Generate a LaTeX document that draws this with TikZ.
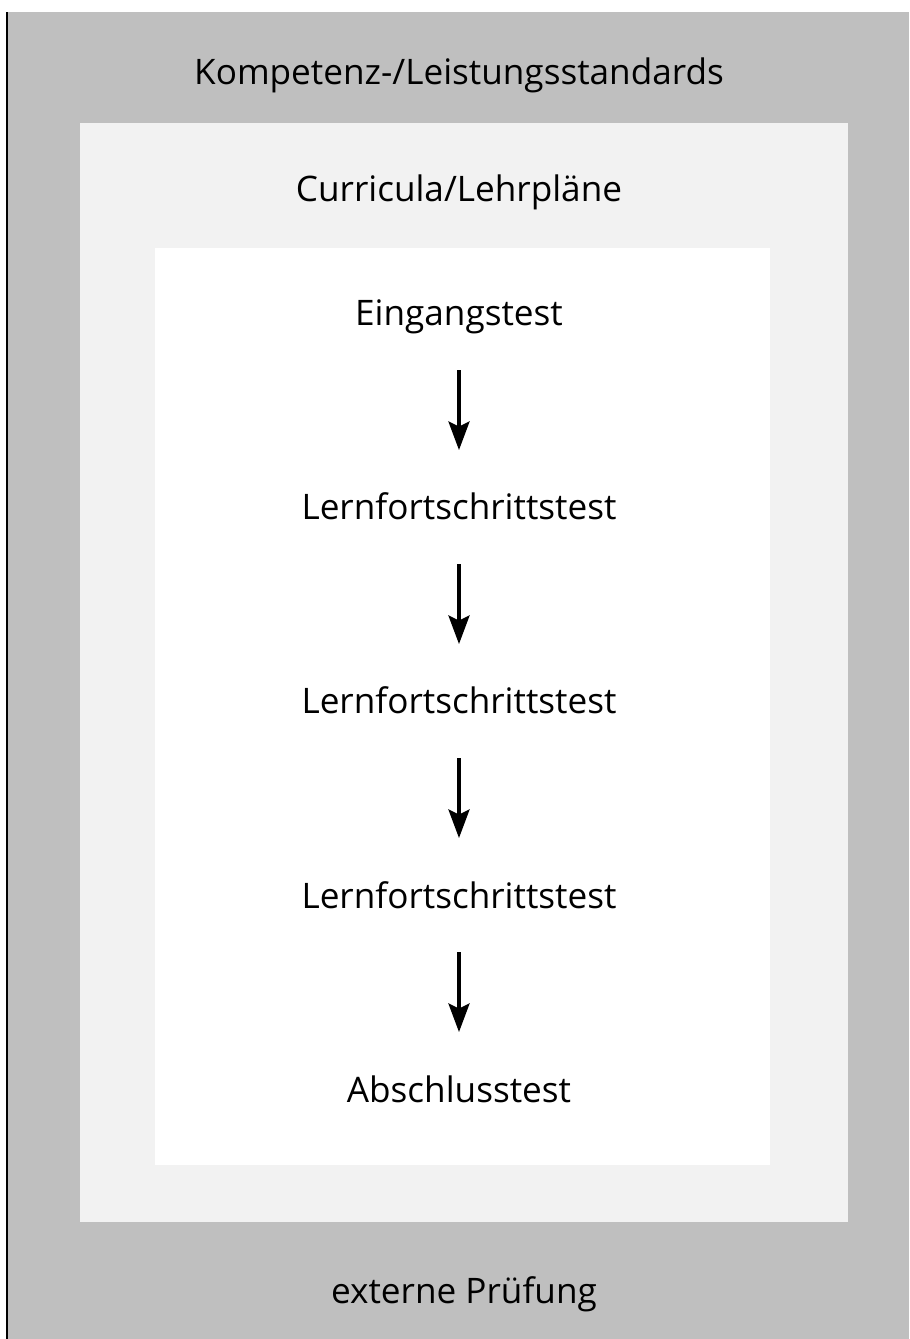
\documentclass[tikz,border=0pt]{standalone}
\usepackage{fontspec}
\setmainfont{Open Sans}
\usetikzlibrary{arrows.meta,positioning}
\tikzstyle{stage} = [font=\fontsize{20}{24}\selectfont, text height=14pt,
    text depth=4pt, inner sep=0pt]
\tikzstyle{line} = [draw, line width=1.8pt,
    -{Stealth[length=5.7mm,width=4.2mm,inset=1mm]},
    shorten <=7.4mm, shorten >=9mm]

\begin{document}
\begin{tikzpicture}[node distance = 3.88cm, auto]
    \useasboundingbox (0,0) rectangle (18.18,-26.78);

    % Frames: standards / curricula / tests
    \fill [black!25] (0.14,-0.24) rectangle (18.18,-26.78);
    \draw [line width=0.8pt] (0.14,-0.24) -- (0.14,-26.78);
    \fill [black!5] (1.6,-2.46) rectangle (16.96,-24.44);
    \fill [white] (3.1,-4.96) rectangle (15.4,-23.3);

    % Place nodes
    \node [stage] (standards) at (9.18,-1.524) {Kompetenz-/Leistungsstandards};
    \node [stage, below of=standards, node distance=2.34cm] (curricula) {Curricula/Lehrpläne};
    \node [stage, below of=curricula, node distance=2.48cm] (eingang) {Eingangstest};
    \node [stage, below of=eingang] (lernA) {Lernfortschrittstest};
    \node [stage, below of=lernA] (lernB) {Lernfortschrittstest};
    \node [stage, below of=lernB] (lernC) {Lernfortschrittstest};
    \node [stage, below of=lernC] (abschluss) {Abschlusstest};
    \node [stage, below of=abschluss, node distance=4.02cm, xshift=1mm] (extern) {externe Prüfung};

    % Draw edges
    \path [line] (eingang) -- (lernA);
    \path [line] (lernA) -- (lernB);
    \path [line] (lernB) -- (lernC);
    \path [line] (lernC) -- (abschluss);
\end{tikzpicture}
\end{document}
